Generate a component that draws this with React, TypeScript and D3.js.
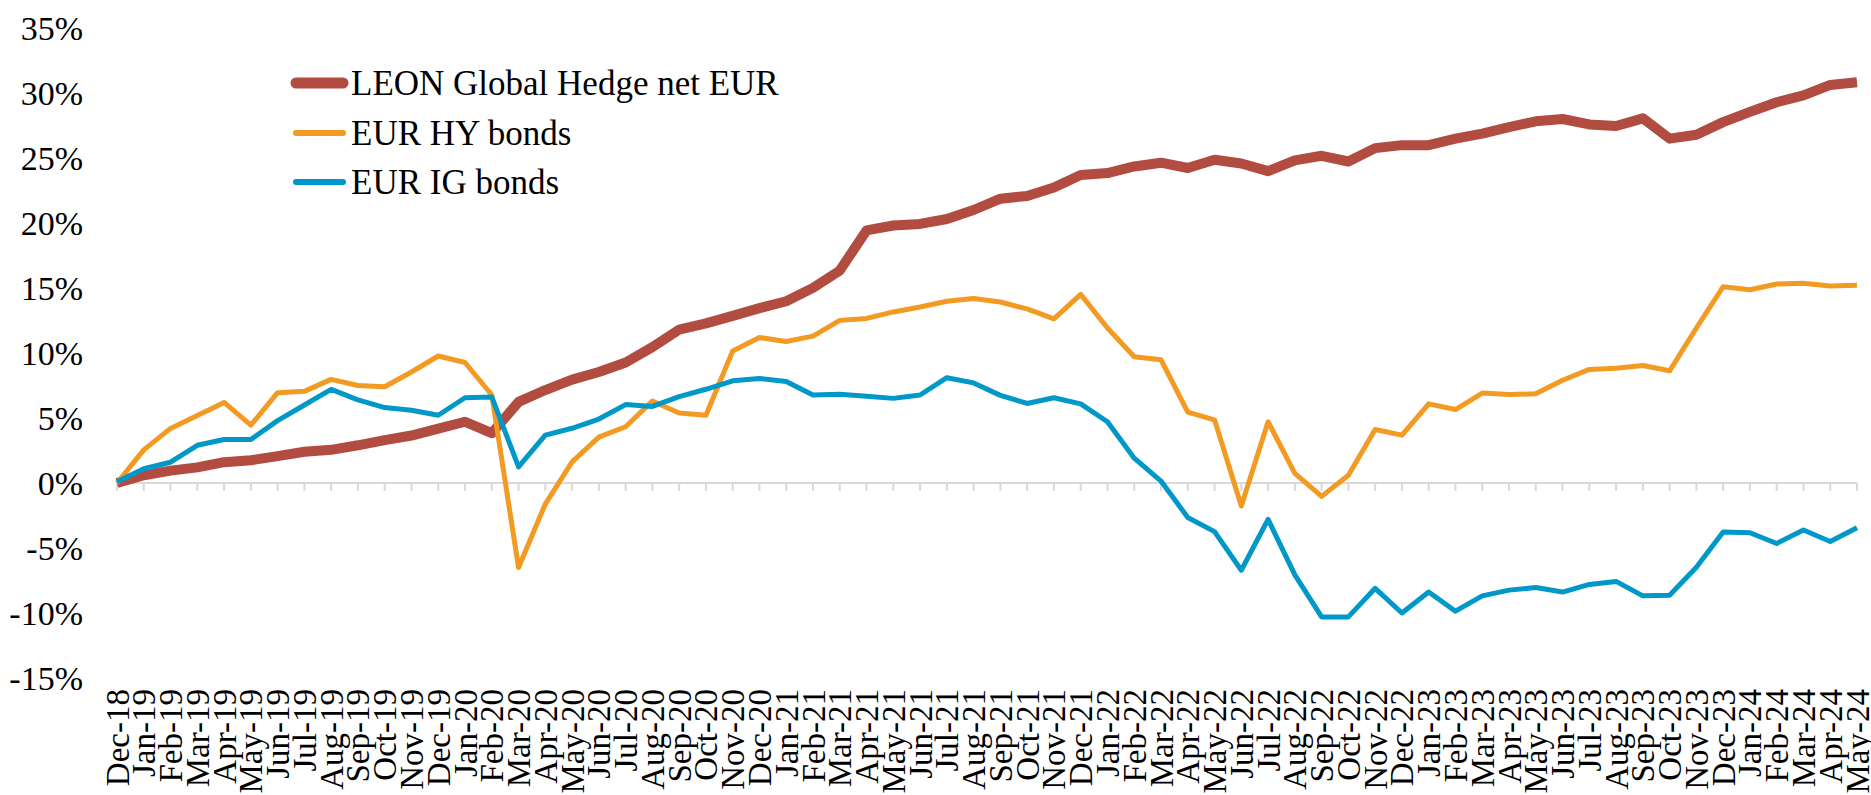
import React from "react";
import * as d3 from "d3";

const months: string[] = [
  "Dec-18",
  "Jan-19", "Feb-19", "Mar-19", "Apr-19", "May-19", "Jun-19", "Jul-19", "Aug-19", "Sep-19", "Oct-19", "Nov-19", "Dec-19",
  "Jan-20", "Feb-20", "Mar-20", "Apr-20", "May-20", "Jun-20", "Jul-20", "Aug-20", "Sep-20", "Oct-20", "Nov-20", "Dec-20",
  "Jan-21", "Feb-21", "Mar-21", "Apr-21", "May-21", "Jun-21", "Jul-21", "Aug-21", "Sep-21", "Oct-21", "Nov-21", "Dec-21",
  "Jan-22", "Feb-22", "Mar-22", "Apr-22", "May-22", "Jun-22", "Jul-22", "Aug-22", "Sep-22", "Oct-22", "Nov-22", "Dec-22",
  "Jan-23", "Feb-23", "Mar-23", "Apr-23", "May-23", "Jun-23", "Jul-23", "Aug-23", "Sep-23", "Oct-23", "Nov-23", "Dec-23",
  "Jan-24", "Feb-24", "Mar-24", "Apr-24", "May-24",
];

const leonGlobalHedge: number[] = [
  0, 0.6, 0.95, 1.2, 1.6, 1.75, 2.07, 2.4, 2.55, 2.9, 3.3, 3.65, 4.18,
  4.71, 3.83, 6.24, 7.15, 7.95, 8.54, 9.27, 10.45, 11.8, 12.28, 12.86, 13.45,
  13.98, 15.01, 16.34, 19.43, 19.81, 19.93, 20.31, 21.0, 21.87, 22.08, 22.73, 23.7,
  23.84, 24.35, 24.64, 24.23, 24.87, 24.58, 23.99, 24.82, 25.17, 24.73, 25.76, 25.99,
  25.99, 26.49, 26.88, 27.38, 27.82, 28.0, 27.58, 27.46, 28.05, 26.49, 26.79, 27.76,
  28.55, 29.29, 29.82, 30.62, 30.82,
];

const eurHyBonds: number[] = [
  0, 2.55, 4.2, 5.2, 6.2, 4.45, 6.95, 7.05, 7.97, 7.5, 7.4, 8.54, 9.77,
  9.27, 6.77, -6.5, -1.62, 1.62, 3.53, 4.33, 6.3, 5.39, 5.21, 10.16, 11.19,
  10.89, 11.3, 12.51, 12.66, 13.16, 13.54, 13.98, 14.2, 13.92, 13.39, 12.63, 14.51,
  11.92, 9.71, 9.48, 5.45, 4.86, -1.77, 4.71, 0.74, -1.03, 0.59, 4.12, 3.68,
  6.09, 5.65, 6.92, 6.8, 6.86, 7.9, 8.74, 8.83, 9.04, 8.63, 11.92, 15.1,
  14.87, 15.31, 15.37, 15.16, 15.22,
];

const eurIgBonds: number[] = [
  0.1, 1.1, 1.6, 2.9, 3.35, 3.35, 4.8, 6.0, 7.2, 6.4, 5.8, 5.6, 5.21,
  6.56, 6.62, 1.24, 3.68, 4.21, 4.92, 6.03, 5.89, 6.65, 7.21, 7.86, 8.04,
  7.8, 6.77, 6.83, 6.68, 6.51, 6.77, 8.1, 7.7, 6.74, 6.12, 6.56, 6.09,
  4.71, 1.91, 0.15, -2.65, -3.74, -6.71, -2.8, -7.07, -10.3, -10.3, -8.1, -10.0,
  -8.39, -9.86, -8.68, -8.24, -8.04, -8.39, -7.8, -7.57, -8.68, -8.63, -6.48, -3.77,
  -3.83, -4.65, -3.62, -4.5, -3.44,
];

const yTicks: number[] = [35, 30, 25, 20, 15, 10, 5, 0, -5, -10, -15];

const seriesNames: string[] = ["LEON Global Hedge net EUR", "EUR HY bonds", "EUR IG bonds"];

const W = 1871;
const H = 795;
const FONT = "'Liberation Serif', 'Times New Roman', serif";

export default function App() {
  const x = d3.scalePoint<string>().domain(months).range([117, 1857]);
  const y = d3.scaleLinear().domain([-15, 35]).range([678, 28]);

  const series = [
    { name: seriesNames[0], values: leonGlobalHedge, color: "#B24B40", width: 10 },
    { name: seriesNames[1], values: eurHyBonds, color: "#F29A22", width: 5 },
    { name: seriesNames[2], values: eurIgBonds, color: "#0097C9", width: 5 },
  ];

  const line = d3
    .line<number>()
    .x((_, i) => x(months[i]) as number)
    .y((d) => y(d));

  const legendY = [83, 133, 182];

  return (
    <svg
      width={W}
      height={H}
      style={{ position: "absolute", left: 0, top: 0, display: "block", background: "#fff" }}
      fontFamily={FONT}
    >
      {/* y axis labels */}
      {yTicks.map((t) => (
        <text
          key={t}
          x={83}
          y={y(t)}
          dy="0.35em"
          textAnchor="end"
          fontSize={34}
          fill="#000"
        >
          {`${t}%`}
        </text>
      ))}

      {/* category axis at 0 */}
      <line x1={x(months[0])} x2={x(months[months.length - 1])} y1={y(0)} y2={y(0)} stroke="#d9d9d9" strokeWidth={2} />
      {months.map((m) => (
        <line key={m} x1={x(m)} x2={x(m)} y1={y(0)} y2={y(0) + 8} stroke="#d9d9d9" strokeWidth={2} />
      ))}

      {/* x labels */}
      {months.map((m) => (
        <text
          key={m}
          transform={`translate(${x(m)},689) rotate(-90)`}
          dy="0.35em"
          textAnchor="end"
          fontSize={33}
          fill="#000"
        >
          {m}
        </text>
      ))}

      {/* series */}
      {series.map((s) => (
        <path
          key={s.name}
          d={line(s.values) || ""}
          fill="none"
          stroke={s.color}
          strokeWidth={s.width}
          strokeLinejoin="round"
          strokeLinecap="butt"
        />
      ))}

      {/* legend */}
      {series.map((s, i) => (
        <g key={s.name}>
          <line
            x1={296}
            x2={343}
            y1={legendY[i]}
            y2={legendY[i]}
            stroke={s.color}
            strokeWidth={i === 0 ? 11 : 6}
            strokeLinecap="round"
          />
          <text x={351} y={legendY[i] + 12} fontSize={35} fill="#000">
            {s.name}
          </text>
        </g>
      ))}
    </svg>
  );
}
